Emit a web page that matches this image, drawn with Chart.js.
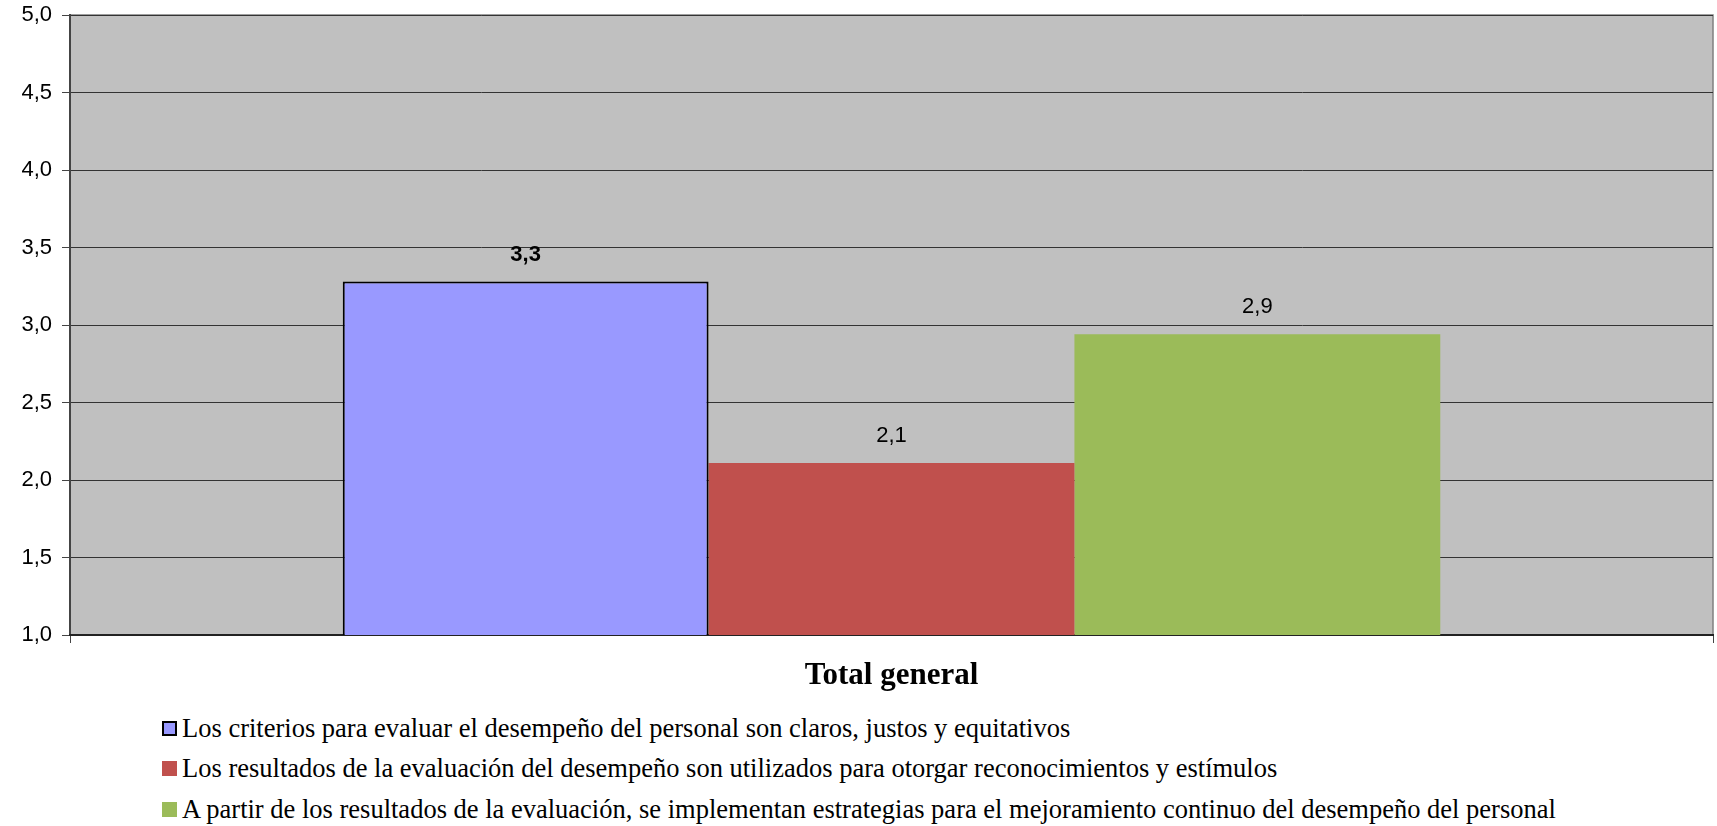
<!DOCTYPE html>
<html>
<head>
<meta charset="utf-8">
<script src="https://cdn.jsdelivr.net/npm/chart.js@4/dist/chart.umd.min.js"></script>
<style>
  body { margin: 0; background: #fff; }
  #wrap { position: relative; width: 1717px; height: 826px; }
  #myChart { position: absolute; left: 0; top: 0; }
  #legend { position: absolute; left: 162px; top: 708px; font-family: 'Liberation Serif', 'Times New Roman', serif; font-size: 26.5px; color: #000; }
  .item { height: 40.5px; display: flex; align-items: center; white-space: nowrap; }
  .box { width: 15px; height: 15px; margin-right: 5px; box-sizing: border-box; }
</style>
</head>
<body>
<div id="wrap">
  <canvas id="myChart" width="1717" height="700"></canvas>
  <div id="legend"></div>
</div>
<script>
const categories = ['Total general'];
const seriesNames = [
  'Los criterios para evaluar el desempeño del personal son claros, justos y equitativos',
  'Los resultados de la evaluación del desempeño son utilizados para otorgar reconocimientos y estímulos',
  'A partir de los resultados de la evaluación, se implementan estrategias para el mejoramiento continuo del desempeño del personal'
];
const seriesValues = [[3.28], [2.11], [2.94]];
const seriesColors = ['#9999FF', '#C0504D', '#9BBB59'];
const yTicks = [1.0, 1.5, 2.0, 2.5, 3.0, 3.5, 4.0, 4.5, 5.0];

const fmt = v => v.toFixed(1).replace('.', ',');

// gray plot background + border
const plotBg = {
  id: 'plotBg',
  beforeDraw(chart) {
    const { ctx, chartArea: a } = chart;
    ctx.save();
    ctx.fillStyle = '#C0C0C0';
    ctx.fillRect(a.left, a.top, a.right - a.left, a.bottom - a.top);
    ctx.strokeStyle = '#808080';
    ctx.lineWidth = 1.5;
    ctx.strokeRect(a.left, a.top, a.right - a.left, a.bottom - a.top);
    ctx.restore();
  }
};

// value labels above bars
const barLabels = {
  id: 'barLabels',
  afterDatasetsDraw(chart) {
    const ctx = chart.ctx;
    ctx.save();
    ctx.textAlign = 'center';
    ctx.textBaseline = 'middle';
    ctx.fillStyle = '#000';
    chart.data.datasets.forEach((ds, i) => {
      const meta = chart.getDatasetMeta(i);
      meta.data.forEach((bar, j) => {
        ctx.font = (i === 0 ? 'bold ' : '') + '22px "Liberation Sans", Arial, sans-serif';
        ctx.fillText(fmt(ds.data[j]), bar.x, bar.y - 27);
      });
    });
    ctx.restore();
  }
};

const ctx = document.getElementById('myChart').getContext('2d');
const myChart = new Chart(ctx, {
  type: 'bar',
  data: {
    labels: categories,
    datasets: seriesNames.map((name, i) => ({
      label: name,
      data: seriesValues[i],
      backgroundColor: seriesColors[i],
      borderColor: i === 0 ? '#000' : seriesColors[i],
      borderWidth: i === 0 ? 2 : 0,
      borderSkipped: false,
      barPercentage: 1,
      categoryPercentage: 0.668
    }))
  },
  options: {
    responsive: false,
    animation: false,
    layout: { padding: { top: 15, right: 4, left: 0, bottom: 0 } },
    plugins: { legend: { display: false }, tooltip: { enabled: false } },
    scales: {
      y: {
        min: 1,
        max: 5,
        afterBuildTicks: scale => { scale.ticks = yTicks.map(v => ({ value: v })); },
        afterFit: scale => {
          scale.width = 70;
          scale.paddingTop = 0;
          scale.paddingBottom = 0;
        },
        ticks: {
          callback: v => fmt(v),
          color: '#000',
          padding: 10,
          font: { family: '"Liberation Sans", Arial, sans-serif', size: 22 }
        },
        grid: { color: '#333', lineWidth: 1, tickLength: 8, tickColor: '#444' },
        border: { color: '#444', width: 2 }
      },
      x: {
        afterFit: scale => { scale.height = 65; },
        ticks: {
          color: '#000',
          padding: 14,
          font: { family: '"Liberation Serif", "Times New Roman", serif', size: 31, weight: 'bold' }
        },
        grid: { drawOnChartArea: false, tickLength: 8, tickColor: '#444' },
        border: { color: '#222', width: 2 }
      }
    }
  },
  plugins: [plotBg, barLabels]
});

// legend
const legend = document.getElementById('legend');
seriesNames.forEach((name, i) => {
  const row = document.createElement('div');
  row.className = 'item';
  const box = document.createElement('span');
  box.className = 'box';
  box.style.background = seriesColors[i];
  if (i === 0) box.style.border = '2px solid #000';
  row.appendChild(box);
  row.appendChild(document.createTextNode(name));
  legend.appendChild(row);
});
</script>
</body>
</html>
